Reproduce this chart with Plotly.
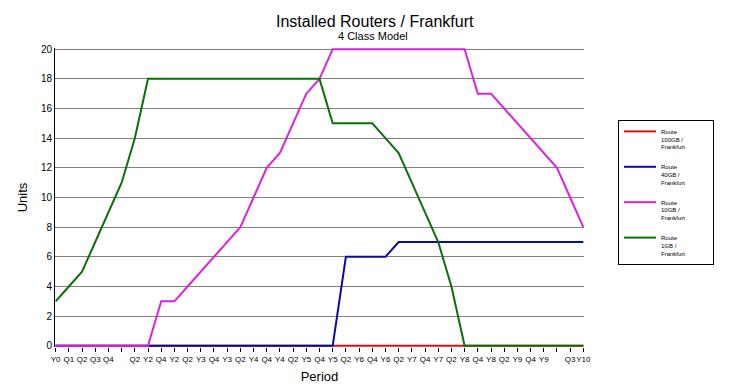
import plotly.graph_objects as go

periods = ["Y0", "Q1", "Q2", "Q3", "Q4", " ", "Q2", "Y2", "Q4", "Y2", "Q2", "Y3", "Q4", "Y3",
           "Q2", "Y4", "Q4", "Y4", "Q2", "Y5", "Q4", "Y5", "Q2", "Y6", "Q4", "Y6", "Q2", "Y7",
           "Q4", "Y7", "Q2", "Y8", "Q4", "Y8", "Q2", "Y9", "Q4", "Y9", "  ", "Q3", "Y10"]
x_idx = list(range(len(periods)))

route_100gb = [0] * 41
route_40gb = [0] * 22 + [6, 6, 6, 6] + [7] * 15
route_10gb = [0, 0, 0, 0, 0, 0, 0, 0, 3, 3, 4, 5, 6, 7, 8, 10, 12, 13, 15, 17, 18,
              20, 20, 20, 20, 20, 20, 20, 20, 20, 20, 20, 17, 17, 16, 15, 14, 13, 12, 10, 8]
route_1gb = [3, 4, 5, 7, 9, 11, 14, 18, 18, 18, 18, 18, 18, 18, 18, 18, 18, 18, 18, 18, 18,
             15, 15, 15, 15, 14, 13, 11, 9, 7, 4, 0, 0, 0, 0, 0, 0, 0, 0, 0, 0]

PAD = "\u00a0" * 18
series = [
    ("Route" + PAD + "<br>100GB /<br>Frankfurt", route_100gb, "#e01010"),
    ("Route" + PAD + "<br>40GB /<br>Frankfurt", route_40gb, "#0a0aa8"),
    ("Route" + PAD + "<br>10GB /<br>Frankfurt", route_10gb, "#dd22dd"),
    ("Route" + PAD + "<br>1GB /<br>Frankfurt", route_1gb, "#0a700a"),
]

fig = go.Figure()
for i, (name, vals, col) in enumerate(series):
    fig.add_trace(go.Scatter(x=x_idx, y=vals, mode="lines", name=name,
                             legendgroup=f"g{i}",
                             line=dict(color=col, width=2)))

FONT = "Liberation Sans, Arial, sans-serif"
OFF = 8  # page body margin
W, H = 744 - OFF, 390 - OFF
L, T = 55 - OFF, 48 - OFF
R = W - (584 - OFF)
B = H - (347 - OFF)
pw, ph = W - L - R, H - T - B

def px_x(x):
    return (x - OFF - L) / pw

def px_y(y):
    return (H - B - (y - OFF)) / ph

fig.update_layout(
    width=W, height=H,
    margin=dict(l=L, r=R, t=T, b=B, autoexpand=False),
    paper_bgcolor="white", plot_bgcolor="white",
    font=dict(family=FONT, color="black"),
    showlegend=True,
    legend=dict(x=px_x(618), y=px_y(120), xanchor="left", yanchor="top",
                bordercolor="black", borderwidth=1, bgcolor="white",
                font=dict(size=6, family=FONT), valign="top",
                tracegroupgap=9, itemwidth=32, traceorder="grouped"),
    xaxis=dict(range=[-0.05, 40.05], tickmode="array", tickvals=x_idx, ticktext=periods,
               tickangle=0, automargin=False,
               ticks="outside", ticklen=4, tickcolor="black", tickwidth=1,
               showgrid=False, zeroline=False, showline=False,
               tickfont=dict(size=8, family=FONT),
               title=dict(text="Period", font=dict(size=13), standoff=9),
               layer="below traces"),
    yaxis=dict(range=[-0.08, 20.08], tickvals=list(range(0, 21, 2)),
               showgrid=True, gridcolor="#808080", gridwidth=1, automargin=False,
               zeroline=False, showline=True, linecolor="black", linewidth=1,
               ticks="", tickfont=dict(size=10),
               title=dict(text="Units", font=dict(size=13), standoff=10),
               layer="below traces"),
    annotations=[
        dict(text="Installed Routers / Frankfurt", xref="paper", yref="paper",
             x=px_x(375), y=px_y(21), xanchor="center", yanchor="middle",
             showarrow=False, font=dict(size=16, family=FONT)),
        dict(text="4 Class Model", xref="paper", yref="paper",
             x=px_x(373), y=px_y(36), xanchor="center", yanchor="middle",
             showarrow=False, font=dict(size=11, family=FONT)),
    ],
)

fig.write_html("out.html")
